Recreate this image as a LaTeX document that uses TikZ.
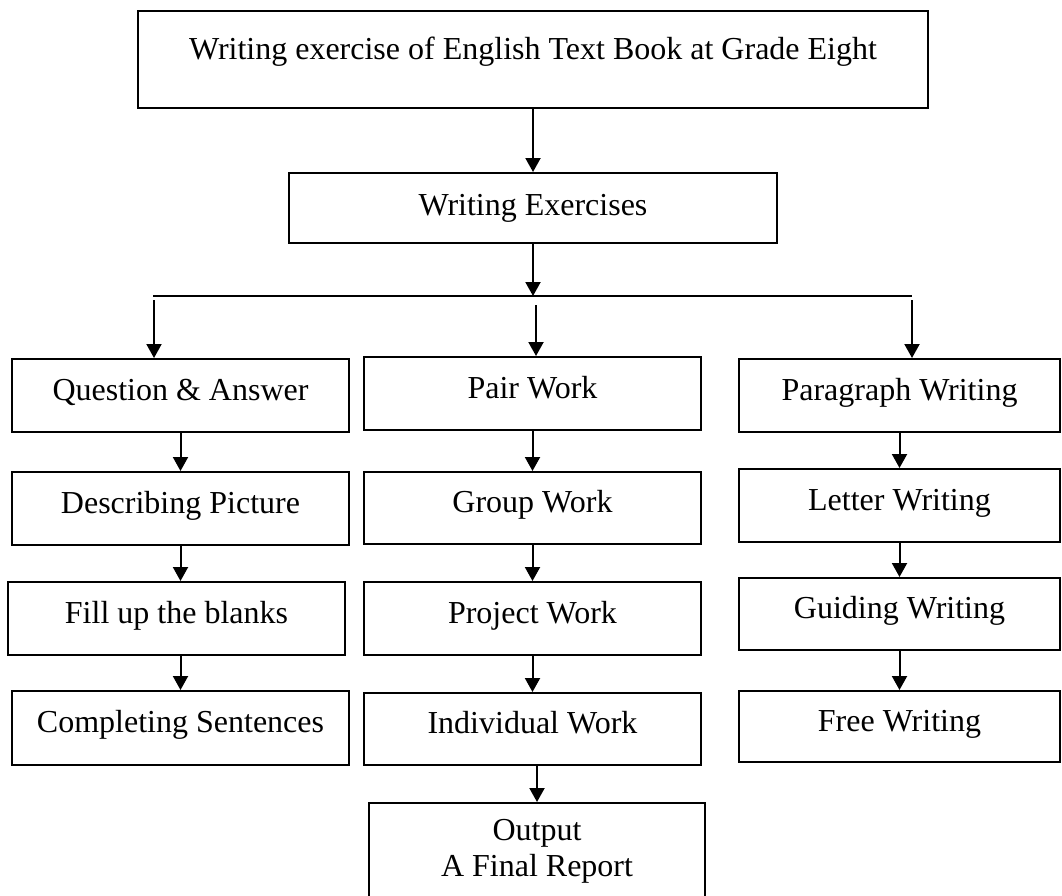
\documentclass[tikz,border=0pt]{standalone}
\usepackage{fontspec}
\setmainfont{Liberation Serif}
\usetikzlibrary{arrows.meta}
\tikzset{
  boxb/.style={draw, line width=2pt, inner sep=0pt,
    font=\fontsize{32}{36}\selectfont, align=center},
  box/.style={boxb, text height=16pt, text depth=7pt},
  arr/.style={line width=2pt, -{Triangle[width=15pt,length=14pt]}},
  branch/.style={line width=1.3pt},
}
\newcommand\boxat[8]{\node[#8, minimum width=#4pt, minimum height=#5pt, #6] (#1) at (#2,#3) {#7};}
\begin{document}
\begin{tikzpicture}[x=1pt, y=-1pt]
\useasboundingbox (0,0) rectangle (1062,895);
% top
\boxat{top}{533}{59.5}{790}{97}{text height=20pt, text depth=20pt}{Writing exercise of English Text Book at Grade Eight}{box}
\boxat{we}{533}{208}{488}{70}{text height=20pt, text depth=6pt}{Writing Exercises}{box}
% left column
\boxat{qa}{180.5}{395.5}{337}{73}{}{Question \& Answer}{box}
\boxat{dp}{180.5}{508.5}{337}{73}{}{Describing Picture}{box}
\boxat{fb}{176.5}{618.5}{337}{73}{}{Fill up the blanks}{box}
\boxat{cs}{180.5}{728}{337}{74}{}{Completing Sentences}{box}
% middle column
\boxat{pw}{532.5}{393.5}{337}{73}{}{Pair Work}{box}
\boxat{gw}{532.5}{508}{337}{72}{}{Group Work}{box}
\boxat{pj}{532.5}{618.5}{337}{73}{}{Project Work}{box}
\boxat{iw}{532.5}{729}{337}{72}{}{Individual Work}{box}
% right column
\boxat{pa}{899.5}{395.5}{321}{73}{}{Paragraph Writing}{box}
\boxat{lw}{899.5}{505.5}{321}{73}{}{Letter Writing}{box}
\boxat{gd}{899.5}{614}{321}{72}{}{Guiding Writing}{box}
\boxat{fw}{899.5}{726.5}{321}{71}{}{Free Writing}{box}
% output
\boxat{out}{537}{851.5}{336}{97}{}{Output\\A Final Report}{boxb}
% connectors
\draw[arr] (top.south) -- (we.north);
\coordinate (bl) at (153,296);
\coordinate (br) at (912,296);
\coordinate (bm) at (533,296);
\draw[branch] (bl) -- (br);
\draw[arr] (we.south) -- (bm);
\coordinate (sl) at (154,300);
\coordinate (sm) at (536,305);
\coordinate (sr) at (912,300);
\draw[arr] (sl) -- (sl |- qa.north);
\draw[arr] (sm) -- (sm |- pw.north);
\draw[arr] (sr) -- (sr |- pa.north);
\draw[arr] (qa.south) -- (dp.north);
\draw[arr] (dp.south) -- (dp.south |- fb.north);
\draw[arr] (cs.north |- fb.south) -- (cs.north);
\draw[arr] (pw.south) -- (gw.north);
\draw[arr] (gw.south) -- (pj.north);
\draw[arr] (pj.south) -- (iw.north);
\draw[arr] (out.north |- iw.south) -- (out.north);
\draw[arr] (pa.south) -- (lw.north);
\draw[arr] (lw.south) -- (gd.north);
\draw[arr] (gd.south) -- (fw.north);
\end{tikzpicture}
\end{document}
